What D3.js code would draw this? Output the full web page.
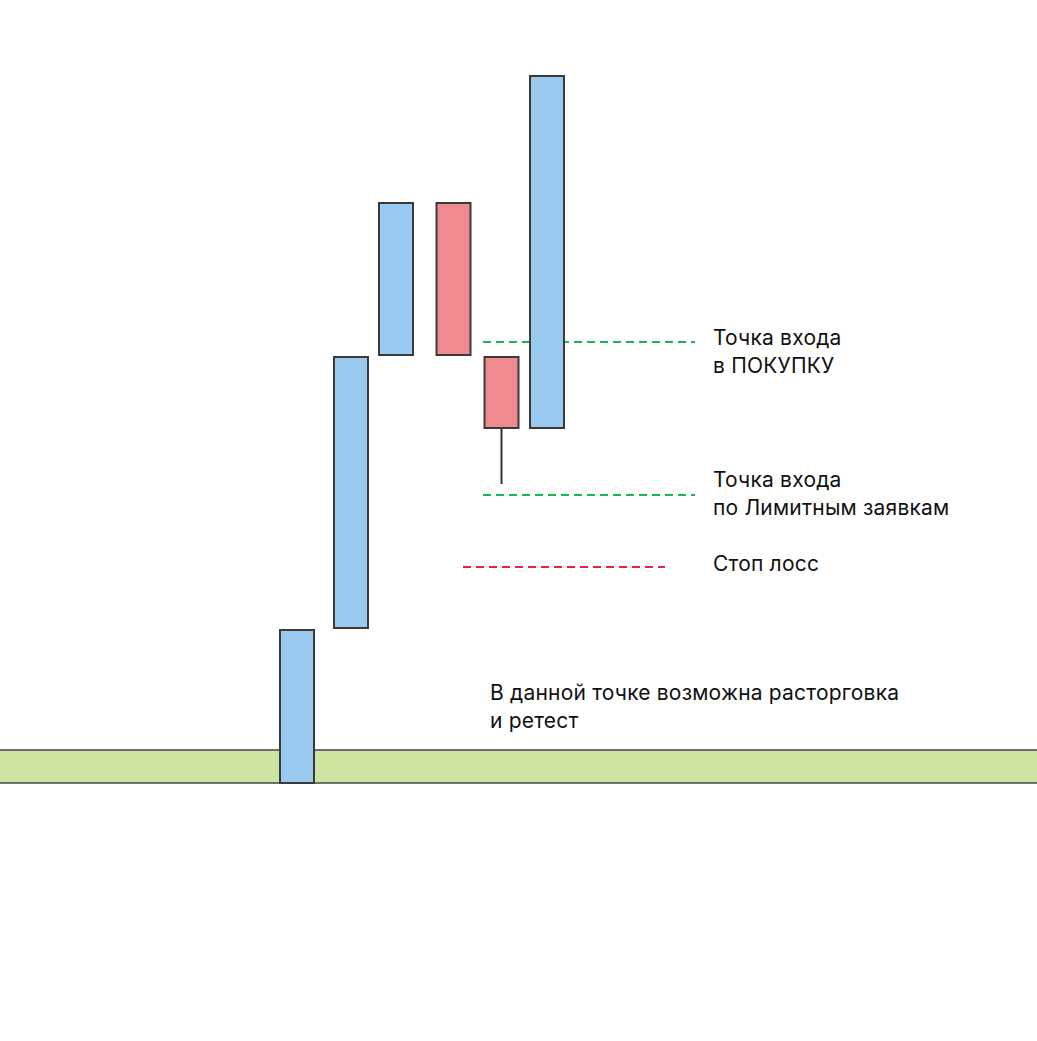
<!DOCTYPE html>
<html>
<head>
<meta charset="utf-8">
<script src="https://cdn.jsdelivr.net/npm/d3@7"></script>
<style>
  html, body { margin: 0; padding: 0; background: #fff; }
  .note { font-family: Inter, "Noto Sans", sans-serif; font-size: 21px; letter-spacing: 0.2px; fill: #111; }
</style>
</head>
<body>
<div id="chart"></div>
<script>
// candles: time position, open, close, low, high (price units)
const candleTimes = [297, 351, 396, 453.5, 501.5, 547];
const candleOpen  = [217, 372, 645, 797, 643, 572];
const candleClose = [370, 643, 797, 645, 572, 924];
const candleLow   = [217, 372, 645, 645, 516, 572];
const candleHigh  = [370, 643, 797, 797, 643, 924];

// support zone
const zoneLow = 217;
const zoneHigh = 250;

// horizontal levels
const levelNames  = ['buy', 'limit', 'stop'];
const levelPrice  = [658, 505, 433];
const levelStart  = [483, 483, 463];
const levelEnd    = [695, 695, 665];

const labels = [
    { lines: ['Точка входа', 'в ПОКУПКУ'], t: 713, price: 655 },
    { lines: ['Точка входа', 'по Лимитным заявкам'], t: 713, price: 513 },
    { lines: ['Стоп лосс'], t: 713, price: 429 },
    { lines: ['В данной точке возможна расторговка', 'и ретест'], t: 490, price: 300 }
];

const width = 1037, height = 1041;

let svg = d3.select('#chart').append('svg')
    .attr('width', width)
    .attr('height', height);

let x = d3.scaleLinear().domain([0, 1037]).range([0, width]);
let y = d3.scaleLinear().domain([0, 1000]).range([1000, 0]);

let candleWidth = 34;

// zone
svg.append('rect')
    .attr('x', 0)
    .attr('width', width)
    .attr('y', y(zoneHigh))
    .attr('height', y(zoneLow) - y(zoneHigh))
    .style('fill', '#cde5a2');

svg.selectAll('.zoneLine')
    .data([zoneHigh, zoneLow])
    .enter().append('line')
    .attr('x1', 0).attr('x2', width)
    .attr('y1', d => y(d)).attr('y2', d => y(d))
    .style('stroke', '#444')
    .style('stroke-width', 1.5);

// levels
let levelColor = { buy: '#14b955', limit: '#14b955', stop: '#e5223f' };
svg.selectAll('.level')
    .data(levelNames)
    .enter().append('line')
    .attr('class', 'level')
    .attr('x1', (d, i) => x(levelStart[i]))
    .attr('x2', (d, i) => x(levelEnd[i]))
    .attr('y1', (d, i) => y(levelPrice[i]))
    .attr('y2', (d, i) => y(levelPrice[i]))
    .style('stroke', d => levelColor[d])
    .style('stroke-width', 2)
    .style('stroke-dasharray', '8,5');

// candles
let candles = candleTimes.map((t, i) => ({
    t: t, open: candleOpen[i], close: candleClose[i], low: candleLow[i], high: candleHigh[i]
}));

let cg = svg.append('g');

cg.selectAll('.wick')
    .data(candles.filter(d => d.low < Math.min(d.open, d.close)))
    .enter().append('line')
    .attr('x1', d => x(d.t)).attr('x2', d => x(d.t))
    .attr('y1', d => y(Math.min(d.open, d.close)))
    .attr('y2', d => y(d.low))
    .style('stroke', '#333')
    .style('stroke-width', 2);

cg.selectAll('.body')
    .data(candles)
    .enter().append('rect')
    .attr('x', d => x(d.t) - candleWidth / 2)
    .attr('width', candleWidth)
    .attr('y', d => y(Math.max(d.open, d.close)))
    .attr('height', d => Math.abs(y(d.open) - y(d.close)))
    .style('fill', d => d.close >= d.open ? '#99c9ee' : '#f08a91')
    .style('stroke', '#3a3a3a')
    .style('stroke-width', 2);

// notes
labels.forEach(l => {
    let txt = svg.append('text')
        .attr('class', 'note')
        .attr('x', x(l.t))
        .attr('y', y(l.price));
    l.lines.forEach((s, k) => {
        txt.append('tspan')
            .attr('x', x(l.t))
            .attr('dy', k === 0 ? 0 : 28)
            .text(s);
    });
});
</script>
</body>
</html>
